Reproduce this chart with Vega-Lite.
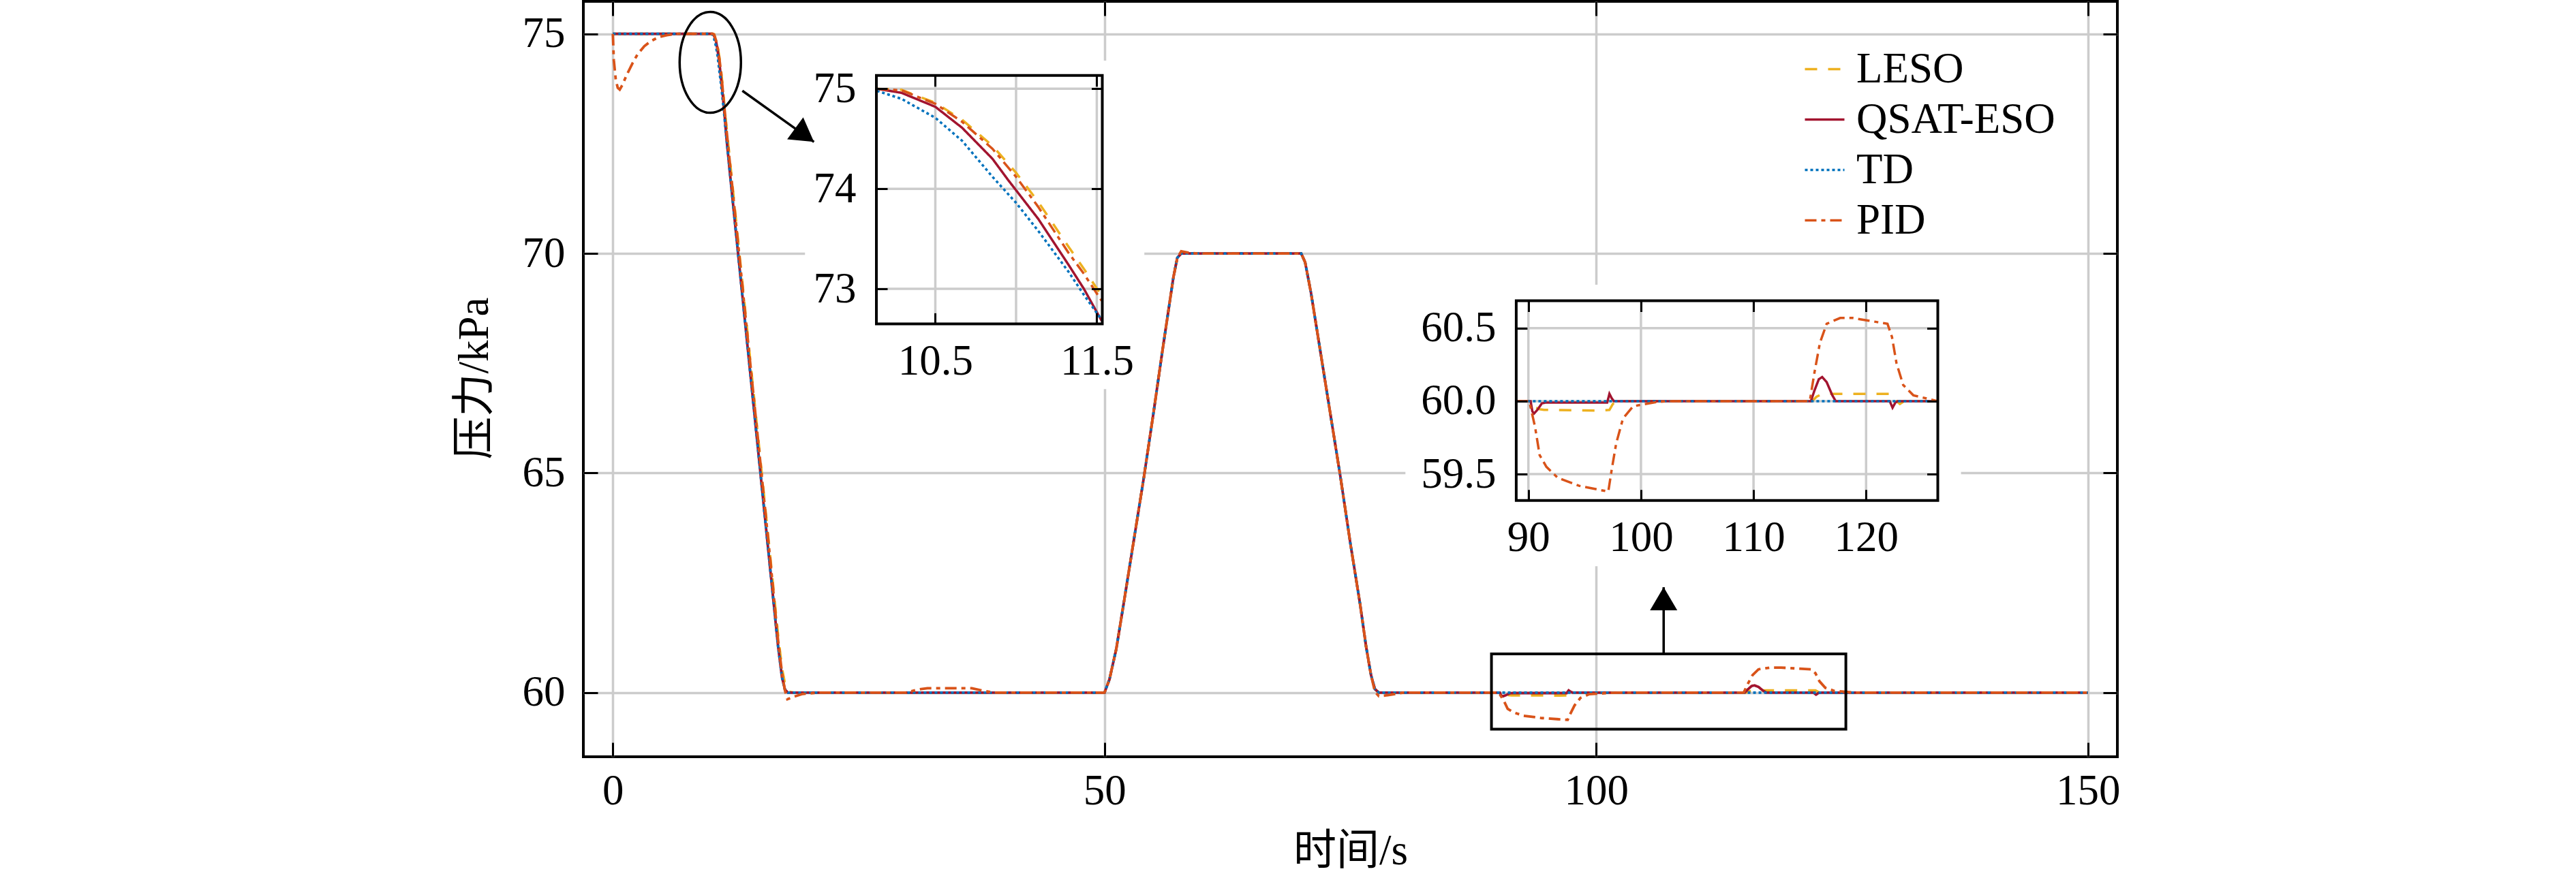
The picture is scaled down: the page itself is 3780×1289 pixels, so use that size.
{
  "$schema": "https://vega.github.io/schema/vega-lite/v6.json",
  "background": "white",
  "autosize": {"type": "none"},
  "padding": {"left": 856, "top": 2, "right": 673, "bottom": 178},
  "width": 2251,
  "height": 1109,
  "config": {
    "view": {"stroke": "black", "strokeWidth": 4},
    "axis": {
      "domain": false, "grid": false,
      "labelFont": "Liberation Serif", "labelFontSize": 63, "labelColor": "black",
      "tickColor": "black", "tickWidth": 3,
      "titleFont": "Liberation Serif, Noto Sans CJK SC", "titleFontSize": 63,
      "titleFontWeight": "normal", "titleColor": "black",
      "labelFlush": false, "labelOverlap": false
    }
  },
  "datasets": {
    "sim": [
      {"s": "LESO", "t": 0, "p": 75}, {"s": "LESO", "t": 10, "p": 75},
      {"s": "LESO", "t": 10.138, "p": 75.0}, {"s": "LESO", "t": 10.29, "p": 74.99},
      {"s": "LESO", "t": 10.5, "p": 74.86}, {"s": "LESO", "t": 10.666, "p": 74.69},
      {"s": "LESO", "t": 10.854, "p": 74.43}, {"s": "LESO", "t": 11.0, "p": 74.16},
      {"s": "LESO", "t": 11.137, "p": 73.87}, {"s": "LESO", "t": 11.325, "p": 73.42},
      {"s": "LESO", "t": 11.42, "p": 73.2}, {"s": "LESO", "t": 11.53, "p": 72.93},
      {"s": "LESO", "t": 12, "p": 71.9}, {"s": "LESO", "t": 13, "p": 69.7},
      {"s": "LESO", "t": 14, "p": 67.5}, {"s": "LESO", "t": 15, "p": 65.3},
      {"s": "LESO", "t": 16, "p": 63.1}, {"s": "LESO", "t": 16.8, "p": 61.3},
      {"s": "LESO", "t": 17.2, "p": 60.55}, {"s": "LESO", "t": 17.5, "p": 60.2},
      {"s": "LESO", "t": 17.9, "p": 60.02}, {"s": "LESO", "t": 18.4, "p": 60},
      {"s": "LESO", "t": 50, "p": 60}, {"s": "LESO", "t": 50.5, "p": 60.3},
      {"s": "LESO", "t": 51.2, "p": 61.0}, {"s": "LESO", "t": 52, "p": 62.1},
      {"s": "LESO", "t": 53, "p": 63.5}, {"s": "LESO", "t": 54, "p": 64.9},
      {"s": "LESO", "t": 55, "p": 66.4}, {"s": "LESO", "t": 55.9, "p": 67.8},
      {"s": "LESO", "t": 56.5, "p": 68.7}, {"s": "LESO", "t": 57, "p": 69.45},
      {"s": "LESO", "t": 57.4, "p": 69.9}, {"s": "LESO", "t": 57.8, "p": 70},
      {"s": "LESO", "t": 70, "p": 70}, {"s": "LESO", "t": 70.4, "p": 69.8},
      {"s": "LESO", "t": 71, "p": 69.1}, {"s": "LESO", "t": 72, "p": 67.7},
      {"s": "LESO", "t": 73, "p": 66.3}, {"s": "LESO", "t": 74, "p": 64.9},
      {"s": "LESO", "t": 75, "p": 63.4}, {"s": "LESO", "t": 76, "p": 62.0},
      {"s": "LESO", "t": 76.6, "p": 61.05}, {"s": "LESO", "t": 77.1, "p": 60.4},
      {"s": "LESO", "t": 77.5, "p": 60.08}, {"s": "LESO", "t": 77.9, "p": 60},
      {"s": "LESO", "t": 88.95, "p": 60}, {"s": "LESO", "t": 90.2, "p": 60},
      {"s": "LESO", "t": 90.5, "p": 59.96}, {"s": "LESO", "t": 91.0, "p": 59.945},
      {"s": "LESO", "t": 91.4, "p": 59.94}, {"s": "LESO", "t": 96.3, "p": 59.935},
      {"s": "LESO", "t": 97.2, "p": 59.94}, {"s": "LESO", "t": 97.5, "p": 59.98},
      {"s": "LESO", "t": 97.8, "p": 60}, {"s": "LESO", "t": 115.2, "p": 60},
      {"s": "LESO", "t": 115.6, "p": 60.03}, {"s": "LESO", "t": 116.1, "p": 60.05},
      {"s": "LESO", "t": 122.3, "p": 60.05}, {"s": "LESO", "t": 122.7, "p": 60.0},
      {"s": "LESO", "t": 123.0, "p": 59.98}, {"s": "LESO", "t": 123.4, "p": 60},
      {"s": "LESO", "t": 126.35, "p": 60}, {"s": "LESO", "t": 150, "p": 60},

      {"s": "QSAT-ESO", "t": 0, "p": 75}, {"s": "QSAT-ESO", "t": 10, "p": 75},
      {"s": "QSAT-ESO", "t": 10.138, "p": 75.0}, {"s": "QSAT-ESO", "t": 10.29, "p": 74.96},
      {"s": "QSAT-ESO", "t": 10.5, "p": 74.82}, {"s": "QSAT-ESO", "t": 10.666, "p": 74.61},
      {"s": "QSAT-ESO", "t": 10.854, "p": 74.3}, {"s": "QSAT-ESO", "t": 10.95, "p": 74.09},
      {"s": "QSAT-ESO", "t": 11.137, "p": 73.7}, {"s": "QSAT-ESO", "t": 11.325, "p": 73.24},
      {"s": "QSAT-ESO", "t": 11.42, "p": 73.0}, {"s": "QSAT-ESO", "t": 11.53, "p": 72.68},
      {"s": "QSAT-ESO", "t": 12, "p": 71.62}, {"s": "QSAT-ESO", "t": 13, "p": 69.42},
      {"s": "QSAT-ESO", "t": 14, "p": 67.22}, {"s": "QSAT-ESO", "t": 15, "p": 65.02},
      {"s": "QSAT-ESO", "t": 16, "p": 62.82}, {"s": "QSAT-ESO", "t": 16.8, "p": 61.06},
      {"s": "QSAT-ESO", "t": 17.2, "p": 60.35}, {"s": "QSAT-ESO", "t": 17.5, "p": 60.07},
      {"s": "QSAT-ESO", "t": 17.8, "p": 60}, {"s": "QSAT-ESO", "t": 50, "p": 60},
      {"s": "QSAT-ESO", "t": 50.5, "p": 60.3}, {"s": "QSAT-ESO", "t": 51.2, "p": 61.0},
      {"s": "QSAT-ESO", "t": 52, "p": 62.1}, {"s": "QSAT-ESO", "t": 53, "p": 63.5},
      {"s": "QSAT-ESO", "t": 54, "p": 64.9}, {"s": "QSAT-ESO", "t": 55, "p": 66.4},
      {"s": "QSAT-ESO", "t": 55.9, "p": 67.8}, {"s": "QSAT-ESO", "t": 56.5, "p": 68.7},
      {"s": "QSAT-ESO", "t": 57, "p": 69.45}, {"s": "QSAT-ESO", "t": 57.4, "p": 69.9},
      {"s": "QSAT-ESO", "t": 57.8, "p": 70}, {"s": "QSAT-ESO", "t": 70, "p": 70},
      {"s": "QSAT-ESO", "t": 70.4, "p": 69.8}, {"s": "QSAT-ESO", "t": 71, "p": 69.1},
      {"s": "QSAT-ESO", "t": 72, "p": 67.7}, {"s": "QSAT-ESO", "t": 73, "p": 66.3},
      {"s": "QSAT-ESO", "t": 74, "p": 64.9}, {"s": "QSAT-ESO", "t": 75, "p": 63.4},
      {"s": "QSAT-ESO", "t": 76, "p": 62.0}, {"s": "QSAT-ESO", "t": 76.6, "p": 61.05},
      {"s": "QSAT-ESO", "t": 77.1, "p": 60.4}, {"s": "QSAT-ESO", "t": 77.5, "p": 60.08},
      {"s": "QSAT-ESO", "t": 77.9, "p": 60}, {"s": "QSAT-ESO", "t": 88.95, "p": 60},
      {"s": "QSAT-ESO", "t": 90.2, "p": 60}, {"s": "QSAT-ESO", "t": 90.35, "p": 59.93},
      {"s": "QSAT-ESO", "t": 90.5, "p": 59.915}, {"s": "QSAT-ESO", "t": 90.8, "p": 59.94},
      {"s": "QSAT-ESO", "t": 91.2, "p": 59.985}, {"s": "QSAT-ESO", "t": 91.5, "p": 59.99},
      {"s": "QSAT-ESO", "t": 97.0, "p": 59.99}, {"s": "QSAT-ESO", "t": 97.2, "p": 60.05},
      {"s": "QSAT-ESO", "t": 97.4, "p": 60.02}, {"s": "QSAT-ESO", "t": 97.6, "p": 60},
      {"s": "QSAT-ESO", "t": 115.1, "p": 60}, {"s": "QSAT-ESO", "t": 115.4, "p": 60.07},
      {"s": "QSAT-ESO", "t": 115.8, "p": 60.15}, {"s": "QSAT-ESO", "t": 116.1, "p": 60.165},
      {"s": "QSAT-ESO", "t": 116.5, "p": 60.13}, {"s": "QSAT-ESO", "t": 117.0, "p": 60.04},
      {"s": "QSAT-ESO", "t": 117.3, "p": 60}, {"s": "QSAT-ESO", "t": 122.1, "p": 60},
      {"s": "QSAT-ESO", "t": 122.35, "p": 59.955}, {"s": "QSAT-ESO", "t": 122.6, "p": 59.99},
      {"s": "QSAT-ESO", "t": 122.8, "p": 60}, {"s": "QSAT-ESO", "t": 126.35, "p": 60},
      {"s": "QSAT-ESO", "t": 150, "p": 60},

      {"s": "TD", "t": 0, "p": 75}, {"s": "TD", "t": 10, "p": 75},
      {"s": "TD", "t": 10.138, "p": 74.98}, {"s": "TD", "t": 10.29, "p": 74.9},
      {"s": "TD", "t": 10.5, "p": 74.71}, {"s": "TD", "t": 10.666, "p": 74.48},
      {"s": "TD", "t": 10.854, "p": 74.12}, {"s": "TD", "t": 11.0, "p": 73.86},
      {"s": "TD", "t": 11.137, "p": 73.58}, {"s": "TD", "t": 11.325, "p": 73.17},
      {"s": "TD", "t": 11.42, "p": 72.94}, {"s": "TD", "t": 11.53, "p": 72.69},
      {"s": "TD", "t": 12, "p": 71.62}, {"s": "TD", "t": 13, "p": 69.42},
      {"s": "TD", "t": 14, "p": 67.22}, {"s": "TD", "t": 15, "p": 65.02},
      {"s": "TD", "t": 16, "p": 62.82}, {"s": "TD", "t": 16.8, "p": 61.06},
      {"s": "TD", "t": 17.2, "p": 60.35}, {"s": "TD", "t": 17.5, "p": 60.07},
      {"s": "TD", "t": 17.8, "p": 60}, {"s": "TD", "t": 50, "p": 60},
      {"s": "TD", "t": 50.5, "p": 60.3}, {"s": "TD", "t": 51.2, "p": 61.0},
      {"s": "TD", "t": 52, "p": 62.1}, {"s": "TD", "t": 53, "p": 63.5},
      {"s": "TD", "t": 54, "p": 64.9}, {"s": "TD", "t": 55, "p": 66.4},
      {"s": "TD", "t": 55.9, "p": 67.8}, {"s": "TD", "t": 56.5, "p": 68.7},
      {"s": "TD", "t": 57, "p": 69.45}, {"s": "TD", "t": 57.4, "p": 69.9},
      {"s": "TD", "t": 57.8, "p": 70}, {"s": "TD", "t": 70, "p": 70},
      {"s": "TD", "t": 70.4, "p": 69.8}, {"s": "TD", "t": 71, "p": 69.1},
      {"s": "TD", "t": 72, "p": 67.7}, {"s": "TD", "t": 73, "p": 66.3},
      {"s": "TD", "t": 74, "p": 64.9}, {"s": "TD", "t": 75, "p": 63.4},
      {"s": "TD", "t": 76, "p": 62.0}, {"s": "TD", "t": 76.6, "p": 61.05},
      {"s": "TD", "t": 77.1, "p": 60.4}, {"s": "TD", "t": 77.5, "p": 60.08},
      {"s": "TD", "t": 77.9, "p": 60}, {"s": "TD", "t": 88.95, "p": 60},
      {"s": "TD", "t": 126.35, "p": 60}, {"s": "TD", "t": 150, "p": 60},

      {"s": "PID", "t": 0, "p": 75}, {"s": "PID", "t": 0.1, "p": 74.4},
      {"s": "PID", "t": 0.3, "p": 73.95}, {"s": "PID", "t": 0.5, "p": 73.77},
      {"s": "PID", "t": 0.7, "p": 73.73}, {"s": "PID", "t": 1.0, "p": 73.85},
      {"s": "PID", "t": 1.4, "p": 74.06}, {"s": "PID", "t": 2.0, "p": 74.33},
      {"s": "PID", "t": 2.5, "p": 74.53}, {"s": "PID", "t": 3.2, "p": 74.72},
      {"s": "PID", "t": 3.9, "p": 74.84}, {"s": "PID", "t": 4.7, "p": 74.93},
      {"s": "PID", "t": 5.5, "p": 74.97}, {"s": "PID", "t": 6.5, "p": 75},
      {"s": "PID", "t": 10, "p": 75},
      {"s": "PID", "t": 10.138, "p": 75.0}, {"s": "PID", "t": 10.29, "p": 74.985},
      {"s": "PID", "t": 10.5, "p": 74.85}, {"s": "PID", "t": 10.666, "p": 74.67},
      {"s": "PID", "t": 10.854, "p": 74.4}, {"s": "PID", "t": 11.0, "p": 74.12},
      {"s": "PID", "t": 11.137, "p": 73.82}, {"s": "PID", "t": 11.325, "p": 73.36},
      {"s": "PID", "t": 11.42, "p": 73.15}, {"s": "PID", "t": 11.53, "p": 72.88},
      {"s": "PID", "t": 12, "p": 71.84}, {"s": "PID", "t": 13, "p": 69.64},
      {"s": "PID", "t": 14, "p": 67.44}, {"s": "PID", "t": 15, "p": 65.24},
      {"s": "PID", "t": 16, "p": 63.04}, {"s": "PID", "t": 16.8, "p": 61.2},
      {"s": "PID", "t": 17.2, "p": 60.45}, {"s": "PID", "t": 17.5, "p": 60.05},
      {"s": "PID", "t": 17.75, "p": 59.85}, {"s": "PID", "t": 18.3, "p": 59.9},
      {"s": "PID", "t": 19.3, "p": 59.97}, {"s": "PID", "t": 21, "p": 60},
      {"s": "PID", "t": 29.8, "p": 60}, {"s": "PID", "t": 31, "p": 60.07},
      {"s": "PID", "t": 32, "p": 60.1}, {"s": "PID", "t": 36.5, "p": 60.1},
      {"s": "PID", "t": 37.5, "p": 60.05}, {"s": "PID", "t": 38.8, "p": 60},
      {"s": "PID", "t": 50, "p": 60}, {"s": "PID", "t": 50.5, "p": 60.3},
      {"s": "PID", "t": 51.2, "p": 61.0}, {"s": "PID", "t": 52, "p": 62.1},
      {"s": "PID", "t": 53, "p": 63.5}, {"s": "PID", "t": 54, "p": 64.9},
      {"s": "PID", "t": 55, "p": 66.4}, {"s": "PID", "t": 55.9, "p": 67.8},
      {"s": "PID", "t": 56.5, "p": 68.7}, {"s": "PID", "t": 57, "p": 69.45},
      {"s": "PID", "t": 57.4, "p": 69.9}, {"s": "PID", "t": 57.8, "p": 70.05},
      {"s": "PID", "t": 58.5, "p": 70.02}, {"s": "PID", "t": 59.5, "p": 70},
      {"s": "PID", "t": 70, "p": 70}, {"s": "PID", "t": 70.4, "p": 69.8},
      {"s": "PID", "t": 71, "p": 69.1}, {"s": "PID", "t": 72, "p": 67.7},
      {"s": "PID", "t": 73, "p": 66.3}, {"s": "PID", "t": 74, "p": 64.9},
      {"s": "PID", "t": 75, "p": 63.4}, {"s": "PID", "t": 76, "p": 62.0},
      {"s": "PID", "t": 76.6, "p": 61.05}, {"s": "PID", "t": 77.1, "p": 60.4},
      {"s": "PID", "t": 77.5, "p": 60.02}, {"s": "PID", "t": 77.9, "p": 59.92},
      {"s": "PID", "t": 78.8, "p": 59.94}, {"s": "PID", "t": 80.4, "p": 60},
      {"s": "PID", "t": 88.95, "p": 60}, {"s": "PID", "t": 90.08, "p": 60},
      {"s": "PID", "t": 90.6, "p": 59.82}, {"s": "PID", "t": 91.0, "p": 59.63},
      {"s": "PID", "t": 91.6, "p": 59.55}, {"s": "PID", "t": 92.6, "p": 59.475},
      {"s": "PID", "t": 94.5, "p": 59.42}, {"s": "PID", "t": 97.1, "p": 59.38},
      {"s": "PID", "t": 97.4, "p": 59.53}, {"s": "PID", "t": 97.8, "p": 59.71},
      {"s": "PID", "t": 98.4, "p": 59.88}, {"s": "PID", "t": 99.3, "p": 59.965},
      {"s": "PID", "t": 101.5, "p": 59.995}, {"s": "PID", "t": 102.5, "p": 60},
      {"s": "PID", "t": 115.0, "p": 60}, {"s": "PID", "t": 115.4, "p": 60.19},
      {"s": "PID", "t": 115.9, "p": 60.4}, {"s": "PID", "t": 116.5, "p": 60.53},
      {"s": "PID", "t": 117.7, "p": 60.57}, {"s": "PID", "t": 118.8, "p": 60.57},
      {"s": "PID", "t": 121.9, "p": 60.53}, {"s": "PID", "t": 122.3, "p": 60.44},
      {"s": "PID", "t": 122.7, "p": 60.26}, {"s": "PID", "t": 123.3, "p": 60.11},
      {"s": "PID", "t": 124.2, "p": 60.04}, {"s": "PID", "t": 126.35, "p": 60},
      {"s": "PID", "t": 150, "p": 60}
    ],
    "whiteBoxes": [
      {"x1": 19.54, "x2": 54.05, "y1": 66.91, "y2": 74.39},
      {"x1": 80.6, "x2": 137.1, "y1": 62.88, "y2": 69.29}
    ],
    "zoomBox": [{"x1": 89.35, "x2": 125.39, "y1": 59.17, "y2": 60.88}],
    "ellipse": [{"x": 9.91, "y": 74.35}],
    "arrow1": [{"x": 13.17, "y": 73.705, "x2": 20.45, "y2": 72.54}],
    "arrow2": [{"x": 106.86, "y": 60.88, "x2": 106.86, "y2": 62.4}],
    "g1x": [{"v": 10.5}, {"v": 11.0}, {"v": 11.5}],
    "g1y": [{"v": 73}, {"v": 74}, {"v": 75}],
    "g2x": [{"v": 90}, {"v": 100}, {"v": 110}, {"v": 120}],
    "g2y": [{"v": 59.5}, {"v": 60.0}, {"v": 60.5}]
  },
  "layer": [
    {
      "layer": [
        {
          "data": {"name": "sim"},
          "mark": {"type": "line", "strokeWidth": 3.8, "strokeCap": "butt"},
          "encoding": {
            "x": {
              "field": "t", "type": "quantitative",
              "scale": {"domain": [-3, 153], "nice": false, "zero": false},
              "axis": {
                "orient": "bottom", "values": [0, 50, 100, 150], "grid": true,
                "gridColor": "#cccccc", "gridWidth": 3.5, "tickSize": -21,
                "labelPadding": 40, "title": "时间/s", "titleY": 138, "titleBaseline": "middle"
              }
            },
            "y": {
              "field": "p", "type": "quantitative",
              "scale": {"domain": [58.54, 75.74], "nice": false, "zero": false},
              "axis": {
                "orient": "left", "values": [60, 65, 70, 75], "grid": true,
                "gridColor": "#cccccc", "gridWidth": 3.5, "tickSize": -21,
                "labelPadding": 48, "title": "压力/kPa", "titleX": -160, "titleY": 553,
                "titleAngle": -90, "titleBaseline": "middle", "titleAlign": "center"
              }
            },
            "color": {
              "field": "s", "type": "nominal", "title": null,
              "scale": {"domain": ["LESO", "QSAT-ESO", "TD", "PID"], "range": ["#EDB120", "#A2142F", "#0072BD", "#D95319"]},
              "legend": {
                "orient": "none", "legendX": 1790, "legendY": 68, "labelFont": "Liberation Serif",
                "labelFontSize": 63, "labelColor": "black", "labelLimit": 0, "symbolType": "stroke", "symbolSize": 3364,
                "symbolStrokeWidth": 3.5, "rowPadding": 10, "labelOffset": 15, "padding": 0
              }
            },
            "strokeDash": {
              "field": "s", "type": "nominal", "title": null,
              "scale": {"domain": ["LESO", "QSAT-ESO", "TD", "PID"], "range": [[18, 16], [1, 0], [4, 4], [17, 7, 6, 7]]}
            }
          }
        },
        {
          "data": {"name": "whiteBoxes"},
          "mark": {"type": "rect", "fill": "white", "strokeWidth": 0},
          "encoding": {
            "x": {"field": "x1", "type": "quantitative", "axis": null},
            "x2": {"field": "x2"},
            "y": {"field": "y1", "type": "quantitative", "axis": null},
            "y2": {"field": "y2"}
          }
        },
        {
          "data": {"name": "zoomBox"},
          "mark": {"type": "rect", "filled": false, "stroke": "black", "strokeWidth": 4},
          "encoding": {
            "x": {
              "field": "x1", "type": "quantitative",
              "axis": {"orient": "top", "values": [0, 50, 100, 150], "labels": false, "tickSize": -21, "title": null}
            },
            "x2": {"field": "x2"},
            "y": {
              "field": "y1", "type": "quantitative",
              "axis": {"orient": "right", "values": [60, 65, 70, 75], "labels": false, "tickSize": -21, "title": null}
            },
            "y2": {"field": "y2"}
          }
        },
        {
          "data": {"name": "ellipse"},
          "mark": {
            "type": "point", "shape": "M -0.608 0 A 0.608 1 0 1 0 0.608 0 A 0.608 1 0 1 0 -0.608 0 Z",
            "size": 21904, "filled": false, "stroke": "black", "strokeWidth": 3.5, "opacity": 1
          },
          "encoding": {
            "x": {"field": "x", "type": "quantitative", "axis": null},
            "y": {"field": "y", "type": "quantitative", "axis": null}
          }
        },
        {
          "data": {"name": "arrow1"},
          "mark": {"type": "rule", "color": "black", "strokeWidth": 3.5},
          "encoding": {
            "x": {"field": "x", "type": "quantitative", "axis": null},
            "y": {"field": "y", "type": "quantitative", "axis": null},
            "x2": {"field": "x2"},
            "y2": {"field": "y2"}
          }
        },
        {
          "data": {"name": "arrow1"},
          "mark": {"type": "point", "shape": "M 0 0 L -1.7 -1 L -1.7 1 Z", "size": 1600, "filled": true, "color": "black", "angle": 36, "opacity": 1},
          "encoding": {
            "x": {"field": "x2", "type": "quantitative", "axis": null},
            "y": {"field": "y2", "type": "quantitative", "axis": null}
          }
        },
        {
          "data": {"name": "arrow2"},
          "mark": {"type": "rule", "color": "black", "strokeWidth": 3.5},
          "encoding": {
            "x": {"field": "x", "type": "quantitative", "axis": null},
            "y": {"field": "y", "type": "quantitative", "axis": null},
            "x2": {"field": "x2"},
            "y2": {"field": "y2"}
          }
        },
        {
          "data": {"name": "arrow2"},
          "mark": {"type": "point", "shape": "M 0 0 L -1.7 -1 L -1.7 1 Z", "size": 1600, "filled": true, "color": "black", "angle": 270, "opacity": 1},
          "encoding": {
            "x": {"field": "x2", "type": "quantitative", "axis": null},
            "y": {"field": "y2", "type": "quantitative", "axis": null}
          }
        }
      ]
    },
    {
      "layer": [
        {
          "data": {"name": "g1x"},
          "mark": {"type": "rule", "color": "#cccccc", "strokeWidth": 3.5},
          "encoding": {
            "x": {"field": "v", "type": "quantitative", "axis": null},
            "y": {"datum": 72.65, "type": "quantitative", "axis": null},
            "y2": {"datum": 75.134}
          }
        },
        {
          "data": {"name": "g1y"},
          "mark": {"type": "rule", "color": "#cccccc", "strokeWidth": 3.5},
          "encoding": {
            "y": {"field": "v", "type": "quantitative", "axis": null},
            "x": {"datum": 10.135, "type": "quantitative", "axis": null},
            "x2": {"datum": 11.534}
          }
        },
        {
          "data": {"name": "sim"},
          "transform": [{"filter": "datum.t >= 10.135 && datum.t <= 11.534"}],
          "mark": {"type": "line", "strokeWidth": 3.5, "strokeCap": "butt"},
          "encoding": {
            "x": {
              "field": "t", "type": "quantitative",
              "scale": {"domain": [10.135, 11.534], "range": [430, 761.5], "nice": false, "zero": false},
              "axis": {"orient": "bottom", "offset": -635.6, "values": [10.5, 11.5], "format": ".1f", "tickSize": -16, "labelPadding": 40, "zindex": 1, "title": null}
            },
            "y": {
              "field": "p", "type": "quantitative",
              "scale": {"domain": [72.65, 75.134], "range": [473.4, 108.7], "nice": false, "zero": false},
              "axis": {"orient": "left", "offset": -430, "values": [73, 74, 75], "format": "d", "tickSize": -16, "labelPadding": 46, "zindex": 1, "title": null}
            },
            "color": {
              "field": "s", "type": "nominal", "title": null, "legend": null,
              "scale": {"domain": ["LESO", "QSAT-ESO", "TD", "PID"], "range": ["#EDB120", "#A2142F", "#0072BD", "#D95319"]}
            },
            "strokeDash": {
              "field": "s", "type": "nominal", "title": null, "legend": null,
              "scale": {"domain": ["LESO", "QSAT-ESO", "TD", "PID"], "range": [[18, 16], [1, 0], [4, 4], [17, 7, 6, 7]]}
            }
          }
        },
        {
          "data": {"values": [{}]},
          "mark": {"type": "rect", "filled": false, "stroke": "black", "strokeWidth": 4},
          "encoding": {
            "x": {"datum": 10.135, "type": "quantitative", "axis": {"orient": "top", "offset": -108.7, "values": [10.5, 11.5], "labels": false, "tickSize": -16, "zindex": 1, "title": null}},
            "x2": {"datum": 11.534},
            "y": {"datum": 72.65, "type": "quantitative", "axis": {"orient": "right", "offset": -1489.5, "values": [73, 74, 75], "labels": false, "tickSize": -16, "zindex": 1, "title": null}},
            "y2": {"datum": 75.134}
          }
        }
      ]
    },
    {
      "layer": [
        {
          "data": {"name": "g2x"},
          "mark": {"type": "rule", "color": "#cccccc", "strokeWidth": 3.5},
          "encoding": {
            "x": {"field": "v", "type": "quantitative", "axis": null},
            "y": {"datum": 59.319, "type": "quantitative", "axis": null},
            "y2": {"datum": 60.688}
          }
        },
        {
          "data": {"name": "g2y"},
          "mark": {"type": "rule", "color": "#cccccc", "strokeWidth": 3.5},
          "encoding": {
            "y": {"field": "v", "type": "quantitative", "axis": null},
            "x": {"datum": 88.92, "type": "quantitative", "axis": null},
            "x2": {"datum": 126.37}
          }
        },
        {
          "data": {"name": "sim"},
          "transform": [{"filter": "datum.t >= 88.92 && datum.t <= 126.37"}],
          "mark": {"type": "line", "strokeWidth": 3.5, "strokeCap": "butt"},
          "encoding": {
            "x": {
              "field": "t", "type": "quantitative",
              "scale": {"domain": [88.92, 126.37], "range": [1368.9, 1987.5], "nice": false, "zero": false},
              "axis": {"orient": "bottom", "offset": -376.2, "values": [90, 100, 110, 120], "format": "d", "tickSize": -16, "labelPadding": 40, "zindex": 1, "title": null}
            },
            "y": {
              "field": "p", "type": "quantitative",
              "scale": {"domain": [59.319, 60.688], "range": [732.8, 439.5], "nice": false, "zero": false},
              "axis": {"orient": "left", "offset": -1368.9, "values": [59.5, 60.0, 60.5], "format": ".1f", "tickSize": -16, "labelPadding": 46, "zindex": 1, "title": null}
            },
            "color": {
              "field": "s", "type": "nominal", "title": null, "legend": null,
              "scale": {"domain": ["LESO", "QSAT-ESO", "TD", "PID"], "range": ["#EDB120", "#A2142F", "#0072BD", "#D95319"]}
            },
            "strokeDash": {
              "field": "s", "type": "nominal", "title": null, "legend": null,
              "scale": {"domain": ["LESO", "QSAT-ESO", "TD", "PID"], "range": [[18, 16], [1, 0], [4, 4], [17, 7, 6, 7]]}
            }
          }
        },
        {
          "data": {"values": [{}]},
          "mark": {"type": "rect", "filled": false, "stroke": "black", "strokeWidth": 4},
          "encoding": {
            "x": {"datum": 88.92, "type": "quantitative", "axis": {"orient": "top", "offset": -439.5, "values": [90, 100, 110, 120], "labels": false, "tickSize": -16, "zindex": 1, "title": null}},
            "x2": {"datum": 126.37},
            "y": {"datum": 59.319, "type": "quantitative", "axis": {"orient": "right", "offset": -263.5, "values": [59.5, 60.0, 60.5], "labels": false, "tickSize": -16, "zindex": 1, "title": null}},
            "y2": {"datum": 60.688}
          }
        }
      ]
    }
  ],
  "resolve": {"scale": {"x": "independent", "y": "independent"}}
}
